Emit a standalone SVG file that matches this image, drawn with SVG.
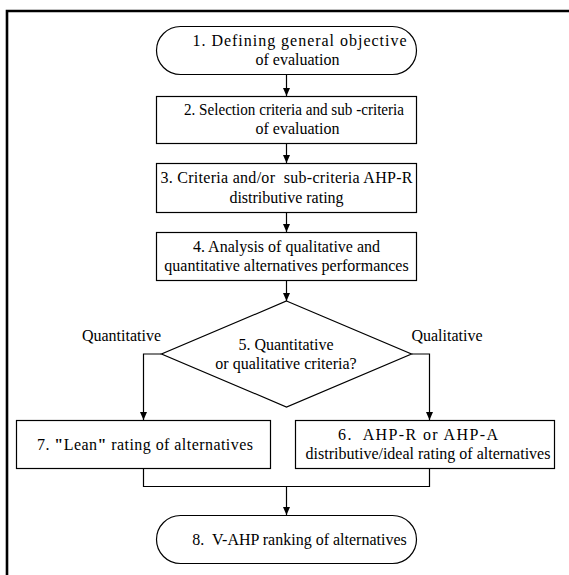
<svg xmlns="http://www.w3.org/2000/svg" width="569" height="575" viewBox="0 0 569 575">
<defs>
<marker id="ah" markerWidth="9" markerHeight="8" refX="8" refY="3.5" orient="auto" markerUnits="userSpaceOnUse">
<path d="M0,0 L8,3.5 L0,7 Z" fill="#000"/>
</marker>
<style>
.box{fill:#fff;stroke:#000;stroke-width:1.2}
.c{fill:none;stroke:#000;stroke-width:1.2}
.a{fill:none;stroke:#000;stroke-width:1.2;marker-end:url(#ah)}
</style>
</defs>
<rect width="569" height="575" fill="#fff"/>
<path d="M7,576 V11 H570" fill="none" stroke="#000" stroke-width="2.6"/>
<g font-family="Liberation Serif" font-size="16" text-anchor="middle" fill="#000">
<g id="n1">
<rect class="box" x="156.5" y="26.5" width="260" height="48" rx="24" ry="24"/>
<text x="299.5" y="45.5" textLength="214" lengthAdjust="spacing">1. Defining general objective</text>
<text x="297.5" y="64.5">of evaluation</text>
</g>
<g id="n2">
<rect class="box" x="156.5" y="96.5" width="260" height="47"/>
<text x="294" y="115" textLength="220" lengthAdjust="spacingAndGlyphs">2. Selection criteria and sub -criteria</text>
<text x="297.5" y="134">of evaluation</text>
</g>
<g id="n3">
<rect class="box" x="156.5" y="163.5" width="260" height="49"/>
<text x="286.5" y="183" xml:space="preserve" textLength="252" lengthAdjust="spacing">3. Criteria and/or  sub-criteria AHP-R</text>
<text x="286.5" y="202.5">distributive rating</text>
</g>
<g id="n4">
<rect class="box" x="156.5" y="232.5" width="260" height="48"/>
<text x="286.5" y="252">4. Analysis of qualitative and</text>
<text x="286.5" y="271">quantitative alternatives performances</text>
</g>
<g id="n5">
<path class="box" d="M286.5,301 L411.5,354 L286.5,407 L161.5,354 Z"/>
<text x="286" y="349.5">5. Quantitative</text>
<text x="286" y="368.5">or qualitative criteria?</text>
</g>
<g id="n7">
<rect class="box" x="16.5" y="420.5" width="254" height="48"/>
<text x="145" y="450" textLength="216" lengthAdjust="spacing">7. <tspan font-weight="bold">"</tspan>Lean<tspan font-weight="bold">"</tspan> rating of alternatives</text>
</g>
<g id="n6">
<rect class="box" x="295.5" y="420.5" width="259" height="48"/>
<text x="418" y="440" xml:space="preserve" textLength="160" lengthAdjust="spacing">6.  AHP-R or AHP-A</text>
<text x="428" y="459">distributive/ideal rating of alternatives</text>
</g>
<g id="n8">
<rect class="box" x="156.5" y="515.5" width="260" height="48" rx="24" ry="24"/>
<text x="299.5" y="545" xml:space="preserve">8.  V-AHP ranking of alternatives</text>
</g>
<g id="labels">
<text x="121.5" y="340.5">Quantitative</text>
<text x="447" y="340.5">Qualitative</text>
</g>
</g>
<g id="connectors">
<path class="a" d="M286.5,75 V96"/>
<path class="a" d="M286.5,143.5 V163"/>
<path class="a" d="M286.5,212.5 V232"/>
<path class="a" d="M286.5,281 V301"/>
<path class="a" d="M161.5,354 H143.5 V420"/>
<path class="a" d="M411.5,354 H429.5 V420"/>
<path class="c" d="M143.5,469 V486.5 H429.5 V469"/>
<path class="a" d="M286.5,486.5 V515"/>
</g>
</svg>
